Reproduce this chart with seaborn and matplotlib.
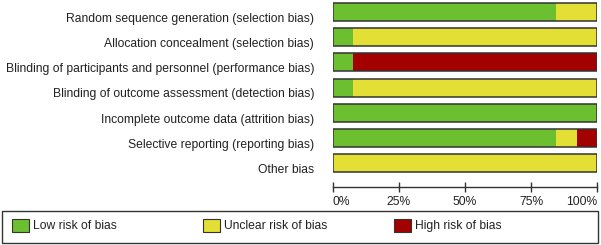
import numpy as np
import pandas as pd
import seaborn as sns
import matplotlib.pyplot as plt
from matplotlib.patches import Patch, Rectangle

domains = [
    "Random sequence generation (selection bias)",
    "Allocation concealment (selection bias)",
    "Blinding of participants and personnel (performance bias)",
    "Blinding of outcome assessment (detection bias)",
    "Incomplete outcome data (attrition bias)",
    "Selective reporting (reporting bias)",
    "Other bias",
]
# number of studies out of 13
low = [11, 1, 1, 1, 13, 11, 0]
unclear = [2, 12, 0, 12, 0, 1, 13]
high = [0, 0, 12, 0, 0, 1, 0]
n_studies = 13

legend_labels = ["Low risk of bias", "Unclear risk of bias", "High risk of bias"]
tick_vals = [0, 25, 50, 75, 100]
tick_labels = ["0%", "25%", "50%", "75%", "100%"]

green = "#6cbf2f"
yellow = "#e3df35"
red = "#a30000"
edge = "#333333"
txt = "#222222"
fs = 8.7

df = pd.DataFrame({"domain": domains, "low": low, "unclear": unclear, "high": high})
df["low_pct"] = df["low"] / n_studies * 100
df["unclear_cum"] = (df["low"] + df["unclear"]) / n_studies * 100
df["total"] = (df["low"] + df["unclear"] + df["high"]) / n_studies * 100

sns.set_style("white")
plt.rcParams["font.family"] = ["Liberation Sans", "DejaVu Sans"]

fig = plt.figure(figsize=(6.01, 2.45), dpi=100)
ax = fig.add_axes([333 / 601, 1 - 187 / 245, 264 / 601, 187 / 245])

w = 0.72
# layers drawn back to front: high, unclear, low
sns.barplot(data=df, x="total", y="domain", color=red, width=w, linewidth=0, saturation=1, ax=ax)
sns.barplot(data=df, x="unclear_cum", y="domain", color=yellow, width=w, linewidth=0, saturation=1, ax=ax)
sns.barplot(data=df, x="low_pct", y="domain", color=green, width=w, linewidth=0, saturation=1, ax=ax)
# outline of each bar
sns.barplot(data=df, x="total", y="domain", fill=False, edgecolor=edge, linewidth=1.1, width=w, ax=ax)

ax.set_xlim(0, 100)
ax.set_ylim(6.95, -0.48)
ax.set_xticks(tick_vals)
ax.set_xticklabels(tick_labels)
xl = ax.get_xticklabels()
xl[0].set_ha("left")
xl[-1].set_ha("right")
# labels sit a little below the bar centres in the original
ax.set_yticks(np.arange(len(domains)) + 0.21)
ax.set_yticklabels(domains)
ax.set_xlabel("")
ax.set_ylabel("")
for s in ["left", "top", "right"]:
    ax.spines[s].set_visible(False)
ax.spines["bottom"].set_color(edge)
ax.spines["bottom"].set_linewidth(1.0)
ax.tick_params(axis="x", direction="inout", length=7, width=1.0, color=edge,
               labelsize=fs, labelcolor=txt, pad=3, bottom=True)
ax.tick_params(axis="y", length=0, labelsize=fs, labelcolor=txt, pad=13.5)

# legend box across the bottom
fig.patches.append(Rectangle((2 / 601, 2.5 / 245), 596 / 601, 32 / 245, transform=fig.transFigure,
                             fill=False, edgecolor=edge, linewidth=1.0))
colors = [green, yellow, red]
x_starts = [12, 203, 394]
for c, lab, x0 in zip(colors, legend_labels, x_starts):
    fig.legend([Patch(facecolor=c, edgecolor=edge, linewidth=0.8)], [lab],
               loc="center left", bbox_to_anchor=(x0 / 601, 19.5 / 245), frameon=False,
               fontsize=fs, handlelength=1.4, handleheight=1.4, handletextpad=0.33,
               borderaxespad=0, borderpad=0, labelcolor=txt)

fig.savefig("out.png", dpi=100)
